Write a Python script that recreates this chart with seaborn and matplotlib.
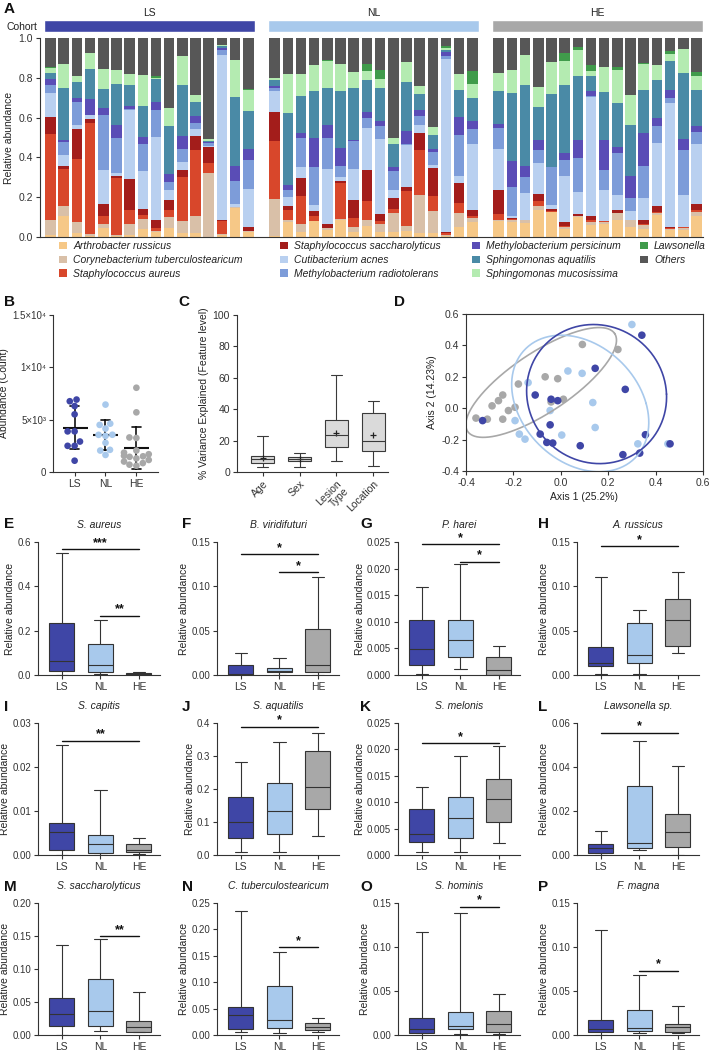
import numpy as np
import pandas as pd
import matplotlib
matplotlib.use("Agg")
import matplotlib.pyplot as plt
from matplotlib.patches import Patch
import seaborn as sns

# ---------------- data ----------------
species = ["Arthrobacter russicus", "Corynebacterium tuberculostearicum", "Staphylococcus aureus",
           "Staphylococcus saccharolyticus", "Cutibacterium acnes", "Methylobacterium radiotolerans",
           "Methylobacterium persicinum", "Sphingomonas aquatilis", "Sphingomonas mucosissima",
           "Lawsonella", "Others"]
species_colors = ["#f6c887", "#d9c0a8", "#d8472b", "#a31d1b", "#b9d0f0", "#7d9cd9",
                  "#5a4db6", "#4a8aa6", "#b4ebb1", "#409b4b", "#575757"]
cohorts = ["LS", "NL", "HE"]
cohort_colors = ["#3f46a6", "#a8c9ec", "#a8a8a8"]

ls_profiles = [
    [0.010, 0.077, 0.431, 0.083, 0.124, 0.038, 0.030, 0.032, 0.025, 0.005, 0.145],
    [0.107, 0.047, 0.188, 0.015, 0.055, 0.067, 0.008, 0.263, 0.118, 0.000, 0.132],
    [0.020, 0.053, 0.319, 0.149, 0.022, 0.113, 0.024, 0.080, 0.028, 0.000, 0.192],
    [0.005, 0.012, 0.557, 0.017, 0.022, 0.002, 0.076, 0.155, 0.079, 0.000, 0.075],
    [0.045, 0.022, 0.037, 0.061, 0.172, 0.276, 0.033, 0.100, 0.100, 0.000, 0.154],
    [0.005, 0.007, 0.283, 0.012, 0.013, 0.179, 0.064, 0.208, 0.070, 0.000, 0.159],
    [0.012, 0.055, 0.070, 0.153, 0.348, 0.003, 0.017, 0.105, 0.055, 0.000, 0.182],
    [0.040, 0.050, 0.022, 0.030, 0.192, 0.133, 0.037, 0.154, 0.155, 0.000, 0.187],
    [0.023, 0.005, 0.017, 0.042, 0.417, 0.134, 0.042, 0.116, 0.004, 0.008, 0.192],
    [0.045, 0.055, 0.034, 0.050, 0.053, 0.037, 0.043, 0.241, 0.088, 0.000, 0.354],
    [0.020, 0.058, 0.226, 0.033, 0.042, 0.063, 0.066, 0.255, 0.145, 0.000, 0.092],
    [0.020, 0.087, 0.330, 0.071, 0.033, 0.033, 0.034, 0.071, 0.034, 0.000, 0.287],
    [0.000, 0.320, 0.051, 0.083, 0.005, 0.012, 0.008, 0.005, 0.007, 0.000, 0.509],
    [0.012, 0.003, 0.063, 0.009, 0.830, 0.021, 0.012, 0.008, 0.009, 0.000, 0.033],
    [0.145, 0.005, 0.000, 0.000, 0.017, 0.115, 0.075, 0.348, 0.183, 0.000, 0.112],
    [0.025, 0.003, 0.000, 0.022, 0.190, 0.147, 0.054, 0.192, 0.108, 0.005, 0.254],
]
nl_profiles = [
    [0.005, 0.185, 0.292, 0.147, 0.105, 0.017, 0.007, 0.030, 0.013, 0.000, 0.199],
    [0.073, 0.014, 0.050, 0.017, 0.045, 0.038, 0.025, 0.362, 0.194, 0.000, 0.182],
    [0.023, 0.044, 0.137, 0.091, 0.056, 0.148, 0.025, 0.184, 0.113, 0.000, 0.179],
    [0.078, 0.004, 0.025, 0.025, 0.030, 0.192, 0.145, 0.236, 0.128, 0.000, 0.137],
    [0.037, 0.008, 0.002, 0.020, 0.274, 0.155, 0.067, 0.187, 0.135, 0.003, 0.112],
    [0.087, 0.003, 0.180, 0.009, 0.025, 0.053, 0.089, 0.289, 0.136, 0.000, 0.129],
    [0.025, 0.025, 0.045, 0.092, 0.154, 0.143, 0.003, 0.264, 0.079, 0.000, 0.170],
    [0.053, 0.030, 0.096, 0.158, 0.209, 0.053, 0.030, 0.159, 0.047, 0.033, 0.132],
    [0.025, 0.042, 0.011, 0.039, 0.374, 0.067, 0.026, 0.166, 0.046, 0.045, 0.159],
    [0.025, 0.095, 0.020, 0.055, 0.042, 0.097, 0.020, 0.112, 0.033, 0.000, 0.501],
    [0.028, 0.029, 0.172, 0.021, 0.212, 0.003, 0.068, 0.247, 0.100, 0.000, 0.120],
    [0.020, 0.192, 0.225, 0.087, 0.039, 0.045, 0.030, 0.080, 0.040, 0.000, 0.242],
    [0.020, 0.109, 0.075, 0.142, 0.016, 0.067, 0.012, 0.072, 0.041, 0.000, 0.446],
    [0.005, 0.005, 0.010, 0.003, 0.873, 0.012, 0.022, 0.008, 0.012, 0.008, 0.042],
    [0.048, 0.072, 0.050, 0.100, 0.039, 0.204, 0.088, 0.140, 0.077, 0.000, 0.182],
    [0.073, 0.022, 0.012, 0.030, 0.330, 0.074, 0.043, 0.116, 0.071, 0.062, 0.167],
]
he_profiles = [
    [0.078, 0.009, 0.030, 0.120, 0.204, 0.105, 0.022, 0.167, 0.090, 0.000, 0.175],
    [0.073, 0.010, 0.007, 0.005, 0.009, 0.146, 0.132, 0.344, 0.112, 0.000, 0.162],
    [0.070, 0.017, 0.000, 0.000, 0.133, 0.079, 0.058, 0.406, 0.150, 0.000, 0.087],
    [0.137, 0.020, 0.022, 0.038, 0.154, 0.066, 0.050, 0.164, 0.104, 0.000, 0.245],
    [0.124, 0.004, 0.004, 0.010, 0.020, 0.189, 0.003, 0.364, 0.162, 0.000, 0.120],
    [0.040, 0.008, 0.005, 0.020, 0.236, 0.078, 0.034, 0.342, 0.122, 0.040, 0.075],
    [0.100, 0.004, 0.003, 0.010, 0.107, 0.175, 0.088, 0.321, 0.130, 0.017, 0.045],
    [0.062, 0.011, 0.010, 0.021, 0.601, 0.003, 0.027, 0.073, 0.027, 0.031, 0.134],
    [0.067, 0.006, 0.005, 0.004, 0.155, 0.100, 0.150, 0.243, 0.125, 0.000, 0.145],
    [0.087, 0.033, 0.002, 0.012, 0.078, 0.209, 0.030, 0.223, 0.167, 0.014, 0.145],
    [0.050, 0.033, 0.002, 0.002, 0.042, 0.066, 0.112, 0.256, 0.150, 0.000, 0.287],
    [0.040, 0.022, 0.005, 0.016, 0.112, 0.162, 0.164, 0.220, 0.127, 0.007, 0.125],
    [0.112, 0.008, 0.007, 0.030, 0.314, 0.087, 0.038, 0.192, 0.075, 0.000, 0.137],
    [0.037, 0.003, 0.003, 0.005, 0.626, 0.026, 0.038, 0.145, 0.039, 0.011, 0.067],
    [0.033, 0.012, 0.003, 0.002, 0.162, 0.225, 0.054, 0.334, 0.122, 0.000, 0.053],
    [0.104, 0.020, 0.013, 0.030, 0.300, 0.062, 0.029, 0.180, 0.070, 0.022, 0.170],
]

# Panel B counts
b_ls = [6920, 6760, 6300, 5510, 3880, 3880, 2910, 2500, 2500, 1080]
b_nl = [6440, 4620, 4500, 4150, 3560, 3550, 3450, 2790, 2120, 2050, 1630]
b_he = [8050, 5700, 3300, 3250, 2050, 1850, 1700, 1550, 1500, 1450, 1300, 1150, 1000, 850, 700, 600]
b_ticks = [0, 5000, 10000, 15000]
b_ticklabels = ["0", "5×10³", "1×10⁴", "1.5×10⁴"]

# Panel C five-number summaries (min, q1, median, q3, max) and means
c_labels = ["Age", "Sex", "Lesion\nType", "Location"]
c_age = [3, 6, 8, 10, 23]
c_sex = [3, 7, 8.5, 9.6, 12]
c_lesion = [7, 16.2, 23.5, 33.2, 62]
c_location = [4, 13.6, 20, 37.7, 45]
c_means = [9, 8, 25, 23.5]

# Panel D PCoA coordinates
d_ls_x = [0.342, 0.145, 0.272, -0.108, -0.041, -0.013, -0.330, -0.045, -0.087, -0.059, -0.034, 0.082, 0.357, 0.461, 0.262, 0.333]
d_ls_y = [0.465, 0.254, 0.120, 0.084, 0.057, 0.048, -0.079, -0.106, -0.165, -0.218, -0.222, -0.239, -0.169, -0.227, -0.296, -0.286]
d_nl_x = [0.300, 0.030, 0.090, -0.138, 0.135, -0.045, -0.193, 0.145, -0.175, -0.151, 0.004, 0.325, 0.452]
d_nl_y = [0.533, 0.237, 0.222, 0.163, 0.036, -0.015, -0.079, -0.123, -0.165, -0.197, -0.171, -0.227, -0.227]
d_he_x = [-0.358, -0.310, -0.290, -0.263, -0.245, -0.221, -0.193, -0.245, -0.179, -0.066, -0.013, 0.011, -0.041, 0.091, 0.241]
d_he_y = [-0.063, -0.070, 0.015, 0.048, 0.084, -0.015, 0.006, -0.070, 0.154, 0.200, 0.188, 0.057, 0.040, 0.406, 0.374]
# ellipses: center x, center y, conjugate semi-axis vectors (v1x, v1y, v2x, v2y)
ell_ls = [0.151, 0.090, 0.295, 0.000, -0.013, 0.443]
ell_nl = [0.082, 0.030, 0.278, 0.000, -0.080, 0.435]
ell_he = [-0.083, 0.164, 0.310, 0.312, -0.071, 0.158]

# Box panels: five-number summaries per cohort [LS, NL, HE]
E_s_aureus = [[0.0, 0.018, 0.064, 0.236, 0.549], [0.003, 0.015, 0.045, 0.140, 0.249], [0.0, 0.002, 0.006, 0.010, 0.015]]
F_b_viridifuturi = [[0.0, 0.0, 0.0015, 0.0113, 0.0245], [0.0, 0.003, 0.0049, 0.0075, 0.0195], [0.0, 0.0038, 0.0113, 0.0515, 0.110]]
G_p_harei = [[0.0002, 0.0019, 0.0049, 0.0103, 0.0166], [0.0011, 0.0033, 0.0065, 0.0103, 0.0208], [0.0, 0.0, 0.0009, 0.0034, 0.0055]]
H_a_russicus = [[0.001, 0.0105, 0.0132, 0.032, 0.110], [0.001, 0.0139, 0.0226, 0.059, 0.0733], [0.025, 0.033, 0.0624, 0.0854, 0.1165]]
I_s_capitis = [[0.0, 0.0011, 0.0053, 0.0072, 0.025], [0.0, 0.0004, 0.0025, 0.0045, 0.0148], [0.0003, 0.0006, 0.0011, 0.0025, 0.0039]]
J_s_aquatilis = [[0.008, 0.0525, 0.099, 0.175, 0.283], [0.010, 0.063, 0.134, 0.219, 0.341], [0.058, 0.139, 0.207, 0.316, 0.371]]
K_s_melonis = [[0.0005, 0.0024, 0.0040, 0.0088, 0.0129], [0.0005, 0.0033, 0.0071, 0.0110, 0.0188], [0.0023, 0.0063, 0.0107, 0.0143, 0.0207]]
L_lawsonella = [[0.0, 0.0008, 0.003, 0.005, 0.011], [0.0023, 0.003, 0.0053, 0.0315, 0.0519], [0.0, 0.0035, 0.0106, 0.0185, 0.0406]]
M_s_saccharolyticus = [[0.0, 0.0135, 0.032, 0.0565, 0.136], [0.006, 0.014, 0.037, 0.085, 0.145], [0.004, 0.005, 0.0115, 0.0215, 0.065]]
N_c_tuberculostearicum = [[0.005, 0.0108, 0.038, 0.0525, 0.234], [0.0044, 0.0139, 0.0285, 0.093, 0.157], [0.0063, 0.0095, 0.0158, 0.0222, 0.0316]]
O_s_hominis = [[0.0, 0.0019, 0.0068, 0.019, 0.1166], [0.001, 0.0068, 0.0106, 0.0266, 0.139], [0.0008, 0.0038, 0.0121, 0.0273, 0.0467]]
P_f_magna = [[0.0, 0.003, 0.0068, 0.017, 0.119], [0.0019, 0.0046, 0.0076, 0.0285, 0.068], [0.0019, 0.0038, 0.0087, 0.0121, 0.033]]

box_letters = list("EFGHIJKLMNOP")
box_titles = ["S. aureus", "B. viridifuturi", "P. harei", "A. russicus",
              "S. capitis", "S. aquatilis", "S. melonis", "Lawsonella sp.",
              "S. saccharolyticus", "C. tuberculostearicum", "S. hominis", "F. magna"]
box_stats = [E_s_aureus, F_b_viridifuturi, G_p_harei, H_a_russicus, I_s_capitis, J_s_aquatilis,
             K_s_melonis, L_lawsonella, M_s_saccharolyticus, N_c_tuberculostearicum, O_s_hominis, P_f_magna]
box_ymax = [0.6, 0.15, 0.025, 0.15, 0.03, 0.4, 0.025, 0.06, 0.20, 0.25, 0.15, 0.15]
box_ystep = [0.2, 0.05, 0.005, 0.05, 0.01, 0.1, 0.005, 0.02, 0.05, 0.05, 0.05, 0.05]
box_yfmt = ["%.1f", "%.2f", "%.3f", "%.2f", "%.2f", "%.1f", "%.3f", "%.2f", "%.2f", "%.2f", "%.2f", "%.2f"]
# significance: (from, to, height, label)
box_sig = [
    [(0, 2, 0.567, "***"), (1, 2, 0.267, "**")],
    [(0, 2, 0.1365, "*"), (1, 2, 0.1158, "*")],
    [(0, 2, 0.0246, "*"), (1, 2, 0.0213, "*")],
    [(0, 2, 0.1455, "*")],
    [(0, 2, 0.026, "**")],
    [(0, 2, 0.389, "*")],
    [(0, 2, 0.0212, "*")],
    [(0, 2, 0.0556, "*")],
    [(1, 2, 0.150, "**")],
    [(1, 2, 0.1665, "*")],
    [(1, 2, 0.146, "*")],
    [(1, 2, 0.0729, "*")],
]

# ---------------- style ----------------
sns.set_theme(style="ticks")
plt.rcParams["font.family"] = ["Liberation Sans", "DejaVu Sans"]
plt.rcParams.update({
    "font.size": 7.5, "axes.labelsize": 7.5, "xtick.labelsize": 7.5, "ytick.labelsize": 7.5,
    "axes.linewidth": 0.8, "xtick.major.width": 0.8, "ytick.major.width": 0.8,
    "xtick.major.size": 3, "ytick.major.size": 3, "xtick.major.pad": 2, "ytick.major.pad": 2,
    "axes.edgecolor": "#333333", "xtick.color": "#333333", "ytick.color": "#333333",
    "text.color": "#222222", "axes.labelcolor": "#222222", "axes.labelpad": 3,
})
pal = dict(zip(cohorts, cohort_colors))

W, H = 709, 1050
fig = plt.figure(figsize=(W / 100, H / 100), dpi=100)


def rect(l, t, r, b):
    return [l / W, 1 - b / H, (r - l) / W, (b - t) / H]


def letter(x, y, s):
    fig.text(x / W, 1 - y / H, s, fontsize=11, fontweight="bold", ha="left", va="center", color="#111111")


# ---------------- Panel A ----------------
n_per = len(ls_profiles)
rows = []
for ci, prof in enumerate([ls_profiles, nl_profiles, he_profiles]):
    for si, vals in enumerate(prof):
        for sp, v in zip(species, vals):
            rows.append({"pos": ci * (n_per + 1) + si, "species": sp, "abundance": v, "cohort": cohorts[ci]})
dfA = pd.DataFrame(rows)

axA = fig.add_axes(rect(40, 38, 703, 237))
sns.histplot(data=dfA, x="pos", weights="abundance", hue="species", hue_order=species[::-1],
             multiple="stack", discrete=True, shrink=0.8, palette=dict(zip(species, species_colors)),
             alpha=1, linewidth=0, edgecolor="none", legend=False, ax=axA)
axA.set_xlim(-0.8, 49.5)
axA.set_ylim(0, 1)
axA.set_yticks(np.arange(0, 1.01, 0.2))
axA.set_yticklabels(["%.1f" % v for v in np.arange(0, 1.01, 0.2)])
axA.set_xticks([])
axA.set_xlabel("")
axA.set_ylabel("Relative abundance")
sns.despine(ax=axA)

axHdr = fig.add_axes(rect(40, 20, 703, 32))
centers = dfA.groupby("cohort", sort=False)["pos"].mean()
sns.barplot(x=list(centers.values), y=[1, 1, 1], native_scale=True, hue=cohorts, palette=pal,
            width=n_per / (n_per + 1), saturation=1, legend=False, ax=axHdr)
axHdr.set_xlim(-0.8, 49.5)
axHdr.set_ylim(0, 1)
axHdr.axis("off")
for name, cx in centers.items():
    axHdr.text(cx, 1.2, name, ha="center", va="bottom", fontsize=7.5)
axHdr.text(-1.0, 0.45, "Cohort", ha="right", va="center", fontsize=7.5)
letter(4, 9, "A")

# legend: 4 columns of 3/3/3/2 entries, placed at the reference's column positions
legend_cols_x = [59, 280, 472, 640]
for col, x0 in enumerate(legend_cols_x):
    idx = range(col * 3, min(col * 3 + 3, len(species)))
    handles = [Patch(facecolor=species_colors[i], edgecolor="none", label=species[i]) for i in idx]
    fig.legend(handles=handles, ncol=1, loc="upper left", bbox_to_anchor=(x0 / W, 1 - 241 / H),
               frameon=False, prop={"style": "italic", "size": 7.5}, handlelength=0.75, handleheight=0.75,
               handletextpad=0.6, labelspacing=0.38, borderaxespad=0, borderpad=0)

# ---------------- Panel B ----------------
dfB = pd.DataFrame({"cohort": ["LS"] * len(b_ls) + ["NL"] * len(b_nl) + ["HE"] * len(b_he),
                    "count": b_ls + b_nl + b_he})
axB = fig.add_axes(rect(53, 315, 158, 472))
sns.swarmplot(data=dfB, x="cohort", y="count", hue="cohort", order=cohorts, hue_order=cohorts,
              palette=pal, size=4.8, legend=False, ax=axB)
sns.pointplot(data=dfB, x="cohort", y="count", order=cohorts, errorbar="sd", color="#111111",
              marker="_", markersize=18, markeredgewidth=1.5, linestyle="none", capsize=0.3,
              err_kws={"linewidth": 1.2}, ax=axB)
axB.set_ylim(0, 15000)
axB.set_yticks(b_ticks)
axB.set_yticklabels(b_ticklabels, fontsize=7)
axB.set_xlim(-0.7, 2.7)
axB.set_xlabel("")
axB.set_ylabel("Abundance (Count)", labelpad=2)
sns.despine(ax=axB)
letter(4, 302, "B")

# ---------------- Panel C ----------------
dfC = pd.DataFrame({"factor": np.repeat(c_labels, 5),
                    "pct": c_age + c_sex + c_lesion + c_location})
axC = fig.add_axes(rect(237, 315, 388, 472))
sns.boxplot(data=dfC, x="factor", y="pct", order=c_labels, color="#dadada", linecolor="#3a3a3a",
            linewidth=0.8, width=0.62, whis=(0, 100), saturation=1, ax=axC)
sns.pointplot(x=c_labels, y=c_means, order=c_labels, errorbar=None, color="#222222", marker="+",
              markersize=5, markeredgewidth=0.9, linestyle="none", ax=axC)
axC.set_ylim(0, 100)
axC.set_yticks(range(0, 101, 20))
axC.set_xlim(-0.7, 3.4)
axC.set_xlabel("")
axC.set_ylabel("% Variance Explained (Feature level)")
axC.set_xticks(range(len(c_labels)))
axC.set_xticklabels(c_labels, rotation=45, ha="right", rotation_mode="anchor", linespacing=1.0)
sns.despine(ax=axC)
letter(178, 302, "C")

# ---------------- Panel D ----------------
dfD = pd.DataFrame({
    "ax1": d_he_x + d_nl_x + d_ls_x,
    "ax2": d_he_y + d_nl_y + d_ls_y,
    "cohort": ["HE"] * len(d_he_x) + ["NL"] * len(d_nl_x) + ["LS"] * len(d_ls_x),
})
axD = fig.add_axes(rect(466, 314, 703, 471))
sns.scatterplot(data=dfD, x="ax1", y="ax2", hue="cohort", palette=pal, s=30, linewidth=0,
                legend=False, ax=axD)
t = np.linspace(0, 2 * np.pi, 300)
for name, e in [("HE", ell_he), ("NL", ell_nl), ("LS", ell_ls)]:
    ex = e[0] + e[2] * np.cos(t) + e[4] * np.sin(t)
    ey = e[1] + e[3] * np.cos(t) + e[5] * np.sin(t)
    axD.plot(ex, ey, color=pal[name], lw=1.2)
axD.set_xlim(-0.4, 0.6)
axD.set_ylim(-0.4, 0.6)
ticks = np.round(np.arange(-0.4, 0.61, 0.2), 1)
axD.set_xticks(ticks)
axD.set_yticks(ticks)
axD.set_xticklabels(["%.1f" % v for v in ticks])
axD.set_yticklabels(["%.1f" % v for v in ticks])
axD.set_xlabel("Axis 1 (25.2%)")
axD.set_ylabel("Axis 2 (14.23%)")
letter(394, 302, "D")

# ---------------- Panels E-P ----------------
col_left = [38, 217, 398, 577]
row_top = [542, 723, 903]
row_bot = [675, 855, 1035]
letter_x = [4, 182, 360, 538]
letter_y = [524, 707, 887]
for k in range(12):
    r, c = divmod(k, 4)
    ax = fig.add_axes(rect(col_left[c], row_top[r], col_left[c] + 122, row_bot[r]))
    stats = box_stats[k]
    dfk = pd.DataFrame({"cohort": np.repeat(cohorts, 5), "value": sum(stats, [])})
    sns.boxplot(data=dfk, x="cohort", y="value", hue="cohort", order=cohorts, hue_order=cohorts,
                palette=pal, whis=(0, 100), width=0.65, linecolor="#333333", linewidth=0.8,
                saturation=1, legend=False, ax=ax)
    ymax, step = box_ymax[k], box_ystep[k]
    ax.set_ylim(0, ymax)
    yt = np.arange(0, ymax + step / 2, step)
    ax.set_yticks(yt)
    ax.set_yticklabels([box_yfmt[k] % v for v in yt], fontsize=7)
    ax.set_xlim(-0.62, 2.55)
    ax.set_xlabel("")
    ax.set_ylabel("Relative abundance", labelpad=1.5)
    ax.set_title(box_titles[k], style="italic", fontsize=7.5, pad=10)
    for (i, j, y, lab) in box_sig[k]:
        ax.plot([i, j], [y, y], color="#111111", lw=1.0, clip_on=False)
        ax.annotate(lab, xy=((i + j) / 2, y), xytext=(0, 4.5), textcoords="offset points",
                    ha="center", va="center", fontsize=9, fontweight="bold", color="#111111")
    sns.despine(ax=ax)
    letter(letter_x[c], letter_y[r], box_letters[k])

fig.savefig("out.png", dpi=100)
